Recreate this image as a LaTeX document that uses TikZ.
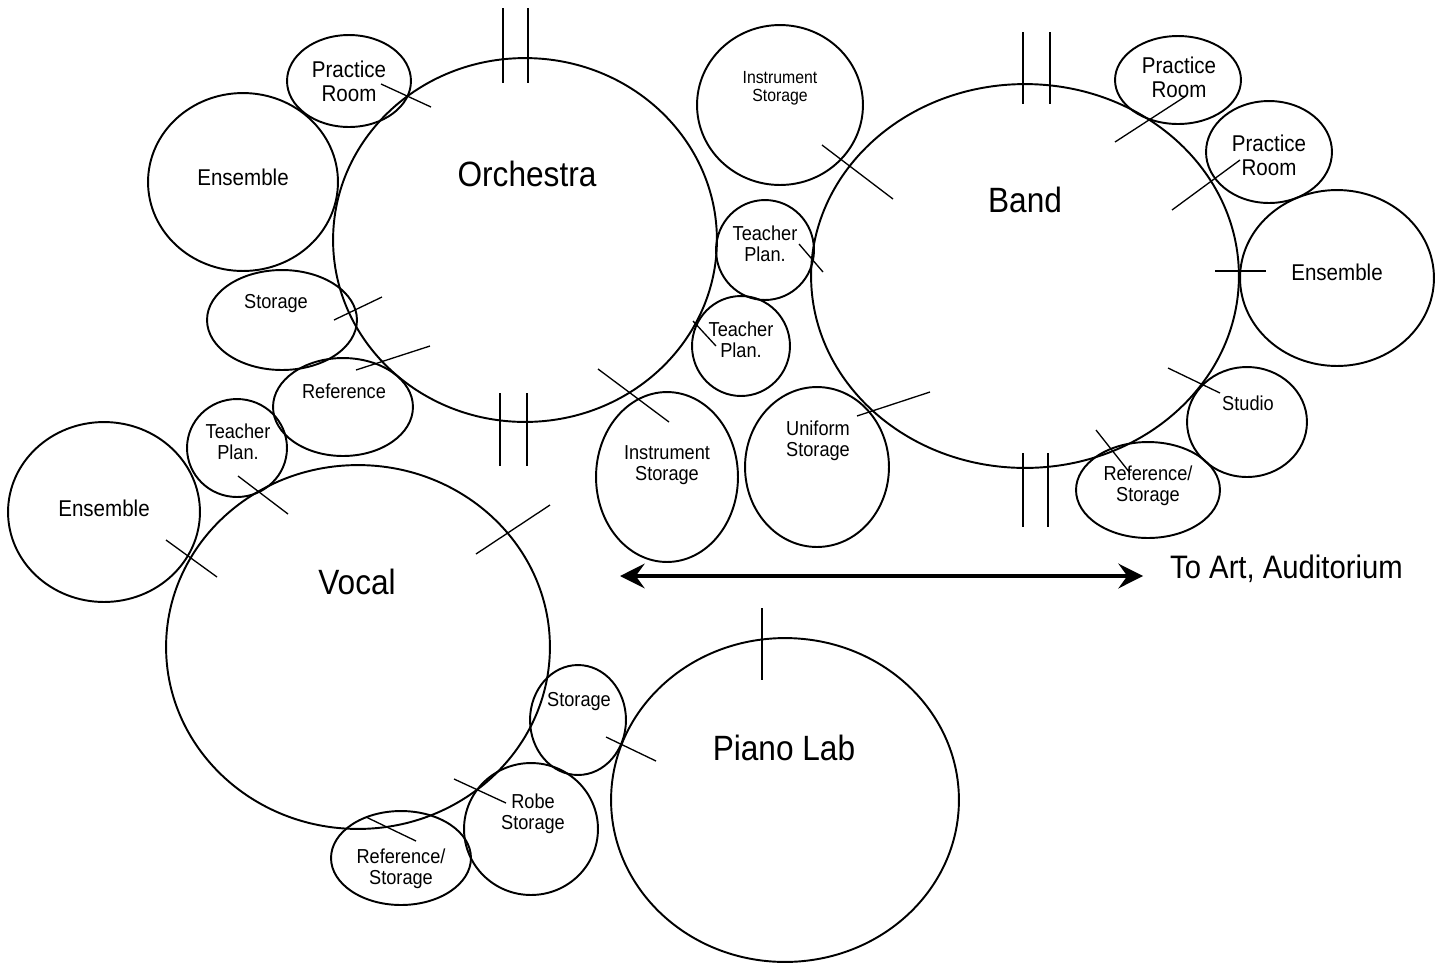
\documentclass[tikz,border=0pt]{standalone}
\usepackage{fontspec}
\setmainfont{Liberation Sans}[FakeStretch=0.9]
\usetikzlibrary{shapes.geometric,arrows.meta}

\begin{document}
\begin{tikzpicture}[x=0.02cm,y=-0.02cm,>={Stealth[length=14pt,width=14pt,inset=5pt]},
                    rxy/.style 2 args={minimum width=#1*0.04cm,minimum height=#2*0.04cm},
                    every label/.style={align=center,font=\fontsize{11.5}{12}\selectfont}]
  \tikzstyle{room}=[ellipse,draw=black,line width=1.1pt,inner sep=0pt]
  \tikzstyle{door}=[draw=black,line width=0.75pt]
  \tikzstyle{bigtxt}=[font=\fontsize{20}{21}\selectfont]
  \tikzstyle{midtxt}=[font=\fontsize{13}{13.5}\selectfont]
  \tikzstyle{smltxt}=[font=\fontsize{10}{10.5}\selectfont]

  \useasboundingbox (0,0) rectangle (1445,965);

  % orchestra group
  \node[room,rxy={192}{182}] (orch)  at (525,240) [label={[bigtxt,shift={(2,-66)}]center:Orchestra}] {};
  \node[room,rxy={95}{89}]   (ensO)  at (243,182) [label={[midtxt,shift={(0,-5)}]center:Ensemble}] {};
  \node[room,rxy={62}{46}]   (praO)  at (349,81)  [label={[midtxt]center:{Practice\\Room}}] {};
  \node[room,rxy={75}{50}]   (stoO)  at (282,320) [label={[shift={(-6,-16)}]center:Storage}] {};
  \node[room,rxy={70}{49}]   (refO)  at (343,407) [label={[shift={(1,-16)}]center:Reference}] {};
  \node[room,rxy={49}{50}]   (tchA)  at (765,250) [label={[shift={(0,-6)}]center:{Teacher\\Plan.}}] {};
  \node[room,rxy={49}{50}]   (tchB)  at (741,346) [label={[shift={(0,-6)}]center:{Teacher\\Plan.}}] {};
  \node[room,rxy={71}{85}]   (insB)  at (667,477) [label={[shift={(0,-12)}]center:{Instrument\\Storage}}] {};

  % vocal group
  \node[room,rxy={192}{182}] (vocal) at (358,647) [label={[bigtxt,shift={(-1,-65)}]center:Vocal}] {};
  \node[room,rxy={50}{49}]   (tchV)  at (237,448) [label={[shift={(1,-6)}]center:{Teacher\\Plan.}}] {};
  \node[room,rxy={96}{90}]   (ensV)  at (104,512) [label={[midtxt,shift={(0,-4)}]center:Ensemble}] {};
  \node[room,rxy={48}{55}]   (stoV)  at (578,720) [label={[shift={(1,-18)}]center:Storage}] {};
  \node[room,rxy={67}{66}]   (robe)  at (531,829) [label={[shift={(2,-15)}]center:{Robe\\Storage}}] {};
  \node[room,rxy={70}{47}]   (refV)  at (401,858) [label={[shift={(0,11)}]center:{Reference/\\Storage}}] {};
  \node[room,rxy={174}{162}] (piano) at (785,800) [label={[bigtxt,shift={(-1,-52)}]center:Piano Lab}] {};

  % band group
  \node[room,rxy={214}{192}] (band)  at (1025,276) [label={[bigtxt,shift={(0,-76)}]center:Band}] {};
  \node[room,rxy={83}{80}]   (insT)  at (780,105)  [label={[smltxt,shift={(0,-17)}]center:{Instrument\\Storage}}] {};
  \node[room,rxy={72}{80}]   (unif)  at (817,467)  [label={[shift={(1,-26)}]center:{Uniform\\Storage}}] {};
  \node[room,rxy={63}{44}]   (praA)  at (1178,80)  [label={[midtxt,shift={(1,-3)}]center:{Practice\\Room}}] {};
  \node[room,rxy={63}{51}]   (praB)  at (1269,152) [label={[midtxt,shift={(0,3)}]center:{Practice\\Room}}] {};
  \node[room,rxy={97}{88}]   (ensB)  at (1337,278) [label={[midtxt,shift={(0,-6)}]center:Ensemble}] {};
  \node[room,rxy={60}{55}]   (studio) at (1247,422) [label={[shift={(1,-19)}]center:Studio}] {};
  \node[room,rxy={72}{48}]   (refB)  at (1148,490) [label={[shift={(0,-4)}]center:{Reference/\\Storage}}] {};

  % doors
  \draw[door] (503,8) -- (503,83) (528,8) -- (528,83)
              (500,393) -- (500,466) (527,393) -- (527,466)
              (1023,32) -- (1023,104) (1050,32) -- (1050,104)
              (1023,453) -- (1023,527) (1048,453) -- (1048,527)
              (762,608) -- (762,680) (1215,271) -- (1266,271);
  \draw[door] (381,84) -- (431,107)   (334,320) -- (382,297)
              (356,370) -- (430,346)  (598,369) -- (669,422)
              (693,321) -- (716,346)  (822,145) -- (893,199)
              (799,244) -- (823,272)  (857,416) -- (930,392)
              (1115,142) -- (1186,96) (1172,210) -- (1240,160)
              (1168,368) -- (1220,393) (1096,430) -- (1130,473)
              (238,476) -- (288,514)  (166,540) -- (217,577)
              (476,554) -- (550,505)  (606,737) -- (656,761)
              (454,779) -- (506,803)  (366,817) -- (416,841);

  % walkway
  \coordinate (wl) at (620,576);
  \node[anchor=west,font=\fontsize{18.5}{19}\selectfont] (aud) at (1164,569) {To Art, Auditorium};
  \draw[<->,line width=2.2pt,shorten >=11.9pt] (wl) -- (wl -| aud.west);
\end{tikzpicture}
\end{document}
